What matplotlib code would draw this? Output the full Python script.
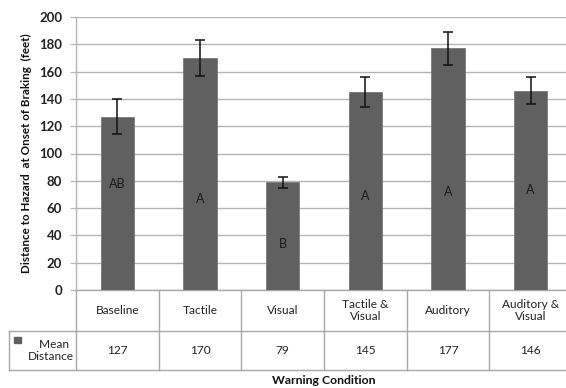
import matplotlib
matplotlib.use("Agg")
import matplotlib.pyplot as plt
from matplotlib.lines import Line2D
from matplotlib.patches import Rectangle
import matplotlib.transforms as mtransforms

plt.rcParams['font.family'] = ['Lato', 'DejaVu Sans']

# Data
conditions = ["Baseline", "Tactile", "Visual", "Tactile &\nVisual", "Auditory", "Auditory &\nVisual"]
mean_distance = [127, 170, 79, 145, 177, 146]
error = [13, 13, 4, 11, 12, 10]
groups = ["AB", "A", "B", "A", "A", "A"]
group_label_y = [78, 67, 34, 69, 72, 73]

W, H = 566, 388
fig = plt.figure(figsize=(W / 100, H / 100), dpi=100)

# plot area in pixel units
left_px, right_px, top_px, bot_px = 76, 572, 17, 290
ax = fig.add_axes([left_px / W, 1 - bot_px / H, (right_px - left_px) / W, (bot_px - top_px) / H])

x = list(range(len(conditions)))
bar_color = "#606060"
grid_color = "#b4b4b4"
text_color = "#222222"
ax.bar(x, mean_distance, width=0.4, color=bar_color, edgecolor="#7a7a7a", linewidth=0.6, zorder=3)
ax.errorbar(x, mean_distance, yerr=error, fmt="none", ecolor="#111111",
            elinewidth=1.1, capsize=3.5, capthick=1.1, zorder=4)

for xi, g, gy in zip(x, groups, group_label_y):
    ax.text(xi, gy, g, ha="center", va="center", fontsize=9, color="#1a1a1a", zorder=5)

ax.set_xlim(-0.5, len(conditions) - 0.5)
ax.set_ylim(0, 200)
ax.set_yticks(range(0, 201, 20))
ax.set_xticks([])
ax.yaxis.grid(True, color=grid_color, linewidth=1.0, zorder=0)
ax.set_axisbelow(True)
for s in ["top", "right", "bottom"]:
    ax.spines[s].set_visible(False)
ax.spines["left"].set_color(grid_color)
ax.spines["left"].set_linewidth(1.0)
ax.tick_params(axis="y", length=4, color=grid_color, labelsize=9.5, labelcolor=text_color, pad=6)
for lab in ax.get_yticklabels():
    lab.set_fontweight("bold")

ax.set_ylabel("Distance to Hazard  at Onset of Braking  (feet)", fontsize=8.4,
              fontweight="bold", color="#111111", labelpad=5)

# Data table below the plot
trans = mtransforms.blended_transform_factory(ax.transData, ax.transAxes)
scale = bot_px - top_px
def ay(py):
    return (bot_px - py) / scale

row1_bot, row2_bot = 331, 370
col_w = (right_px - left_px) / len(conditions)
table_left_x = -0.5 - (left_px - 9) / col_w
line_kw = dict(color="#a8a8a8", linewidth=1.0, clip_on=False, transform=trans)

def hline(x0, x1, py):
    ax.add_line(Line2D([x0, x1], [ay(py), ay(py)], **line_kw))

def vline(xd, py0, py1):
    ax.add_line(Line2D([xd, xd], [ay(py0), ay(py1)], **line_kw))

hline(-0.5, len(conditions) - 0.5, bot_px)
hline(table_left_x, len(conditions) - 0.5, row1_bot)
hline(table_left_x, len(conditions) - 0.5, row2_bot)
vline(table_left_x, row1_bot, row2_bot)
for i in range(len(conditions) + 1):
    vline(i - 0.5, bot_px, row2_bot)

for xi, name, val in zip(x, conditions, mean_distance):
    ax.text(xi, ay((bot_px + row1_bot) / 2), name, ha="center", va="center",
            fontsize=8.6, color=text_color, transform=trans, linespacing=1.2)
    ax.text(xi, ay((row1_bot + row2_bot) / 2), str(val), ha="center", va="center",
            fontsize=8.6, color=text_color, transform=trans)

# legend key and series name in the table's first column
key_x = table_left_x + (14 - 9) / col_w
ax.add_patch(Rectangle((key_x, ay(343)), 7 / col_w, 6 / scale, color=bar_color,
                       transform=trans, clip_on=False))
ax.text(-0.5 - (76 - 51) / col_w, ay((row1_bot + row2_bot) / 2), "  Mean\nDistance",
        ha="center", va="center", fontsize=8.6, color=text_color, transform=trans,
        linespacing=1.2)

ax.text(2.5, ay(381), "Warning Condition", ha="center", va="center", fontsize=8.8,
        fontweight="bold", color="#111111", transform=trans)

fig.savefig("out.png", dpi=100)
